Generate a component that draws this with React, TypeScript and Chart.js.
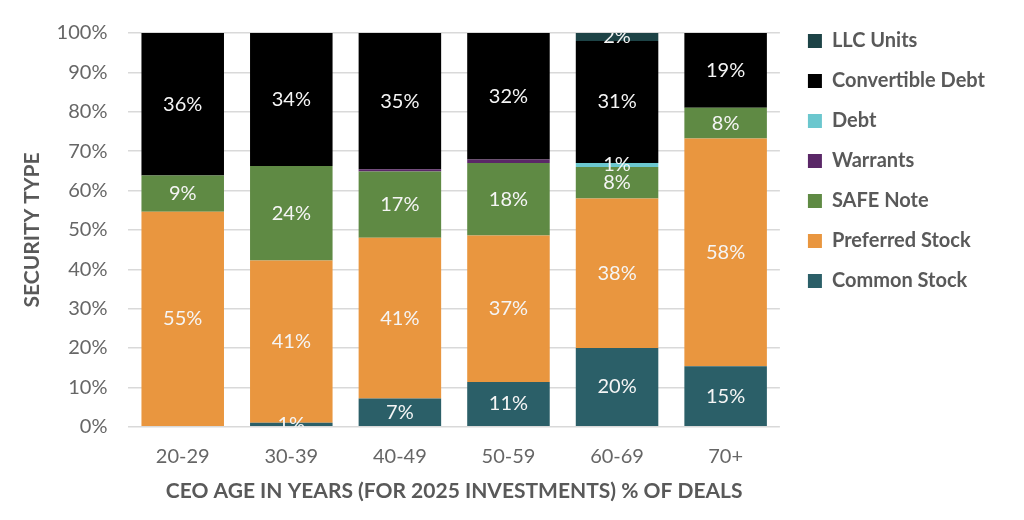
import { useEffect, useRef } from "react";
import { Chart, registerables } from "chart.js";

Chart.register(...registerables);

const ageGroups = ["20-29", "30-39", "40-49", "50-59", "60-69", "70+"];

// share of deals per security type, % (bottom of the stack first)
const commonStock = [0, 1, 7.2, 11.4, 20, 15.4];
const preferredStock = [54.6, 41.2, 40.8, 37.2, 38, 57.8];
const safeNote = [9.2, 24, 16.8, 18.4, 8, 7.8];
const warrants = [0, 0, 0.6, 0.9, 0, 0];
const debt = [0, 0, 0, 0, 1, 0];
const convertibleDebt = [36.2, 33.8, 34.6, 32.1, 31, 19];
const llcUnits = [0, 0, 0, 0, 2, 0];

const yTicks = [0, 10, 20, 30, 40, 50, 60, 70, 80, 90, 100];

const FONT = "Lato, 'Noto Sans', sans-serif";
const AXIS_GREY = "#666666";
const TITLE_GREY = "#595959";

// white % labels in the middle of each segment, clipped to the plot
const segmentLabels = {
  id: "segmentLabels",
  afterInit(chart: any) {
    // let the legend be wider than chart.js' default share of the width
    const legend = chart.legend;
    if (legend && !legend._wide) {
      const orig = legend.update.bind(legend);
      legend.update = (w: number, h: number, m: any) => orig(Math.max(w, 300), h, m);
      legend._wide = true;
    }
  },
  afterDatasetsDraw(chart: any) {
    const { ctx, chartArea } = chart;
    ctx.save();
    ctx.beginPath();
    ctx.rect(chartArea.left, chartArea.top, chartArea.right - chartArea.left, chartArea.bottom - chartArea.top);
    ctx.clip();
    ctx.font = `20px ${FONT}`;
    ctx.fillStyle = "#f5f5f5";
    ctx.textAlign = "center";
    ctx.textBaseline = "middle";
    chart.data.datasets.forEach((ds: any, i: number) => {
      const meta = chart.getDatasetMeta(i);
      meta.data.forEach((bar: any, j: number) => {
        const v = ds.data[j] as number;
        if (v < 1) return;
        const { x, y, base } = bar.getProps(["x", "y", "base"], true);
        ctx.fillText(Math.round(v) + "%", x, (y + base) / 2);
      });
    });
    ctx.restore();
  },
};

export default function App() {
  const canvasRef = useRef<HTMLCanvasElement>(null);
  const chartRef = useRef<Chart | null>(null);

  useEffect(() => {
    if (!canvasRef.current) return;
    if (chartRef.current) chartRef.current.destroy();

    const series = [
      { label: "Common Stock", data: commonStock, color: "#2B5F68" },
      { label: "Preferred Stock", data: preferredStock, color: "#E9963F" },
      { label: "SAFE Note", data: safeNote, color: "#5F8A44" },
      { label: "Warrants", data: warrants, color: "#5A2767" },
      { label: "Debt", data: debt, color: "#6BC7CE" },
      { label: "Convertible Debt", data: convertibleDebt, color: "#000000" },
      { label: "LLC Units", data: llcUnits, color: "#1D4346" },
    ];

    chartRef.current = new Chart(canvasRef.current, {
      type: "bar",
      data: {
        labels: ageGroups,
        datasets: series.map((s) => ({
          label: s.label,
          data: s.data,
          backgroundColor: s.color,
          borderWidth: 0,
          barPercentage: 0.76,
          categoryPercentage: 1,
        })),
      },
      options: {
        animation: false,
        responsive: false,
        maintainAspectRatio: false,
        layout: { padding: { top: 11, left: 17, right: 29, bottom: 16 } },
        plugins: {
          tooltip: { enabled: false },
          legend: {
            position: "right",
            align: "start",
            reverse: true,
            labels: {
              boxWidth: 14,
              boxHeight: 14,
              padding: 20,
              color: TITLE_GREY,
              font: { family: FONT, size: 20, weight: "bold" },
            },
          },
        },
        scales: {
          x: {
            stacked: true,
            grid: { display: false },
            border: { display: false },
            ticks: {
              color: AXIS_GREY,
              padding: 10,
              font: { family: FONT, size: 20 },
            },
            title: {
              display: true,
              text: "CEO AGE IN YEARS (FOR 2025 INVESTMENTS) % OF DEALS",
              color: TITLE_GREY,
              font: { family: FONT, size: 21, weight: "bold" },
              padding: { top: 0, bottom: 0 },
            },
          },
          y: {
            stacked: true,
            min: 0,
            max: 100,
            afterBuildTicks: (scale: any) => {
              scale.ticks = yTicks.map((v) => ({ value: v }));
            },
            afterFit: (scale: any) => {
              scale.paddingTop = 33;
            },
            grid: { color: "#d9d9d9", lineWidth: 1.5, drawTicks: false },
            border: { display: false },
            ticks: {
              color: AXIS_GREY,
              padding: 21,
              font: { family: FONT, size: 20 },
              callback: (v: any) => v + "%",
            },
            title: {
              display: true,
              text: "SECURITY TYPE",
              color: TITLE_GREY,
              font: { family: FONT, size: 21, weight: "bold" },
              padding: { top: 2.4, bottom: -9 },
            },
          },
          // empty axis used only as a gap between the plot and the legend
          gap: {
            type: "linear",
            position: "right",
            grid: { display: false, drawTicks: false },
            border: { display: false },
            ticks: { display: false },
            afterFit: (scale: any) => {
              scale.width = 8;
            },
          },
        },
      },
      plugins: [segmentLabels],
    });

    return () => {
      if (chartRef.current) {
        chartRef.current.destroy();
        chartRef.current = null;
      }
    };
  }, []);

  return (
    <div style={{ position: "fixed", left: 0, top: 0, width: 1024, height: 520, background: "#fff" }}>
      <canvas ref={canvasRef} width={1024} height={520} style={{ width: 1024, height: 520 }} />
    </div>
  );
}
